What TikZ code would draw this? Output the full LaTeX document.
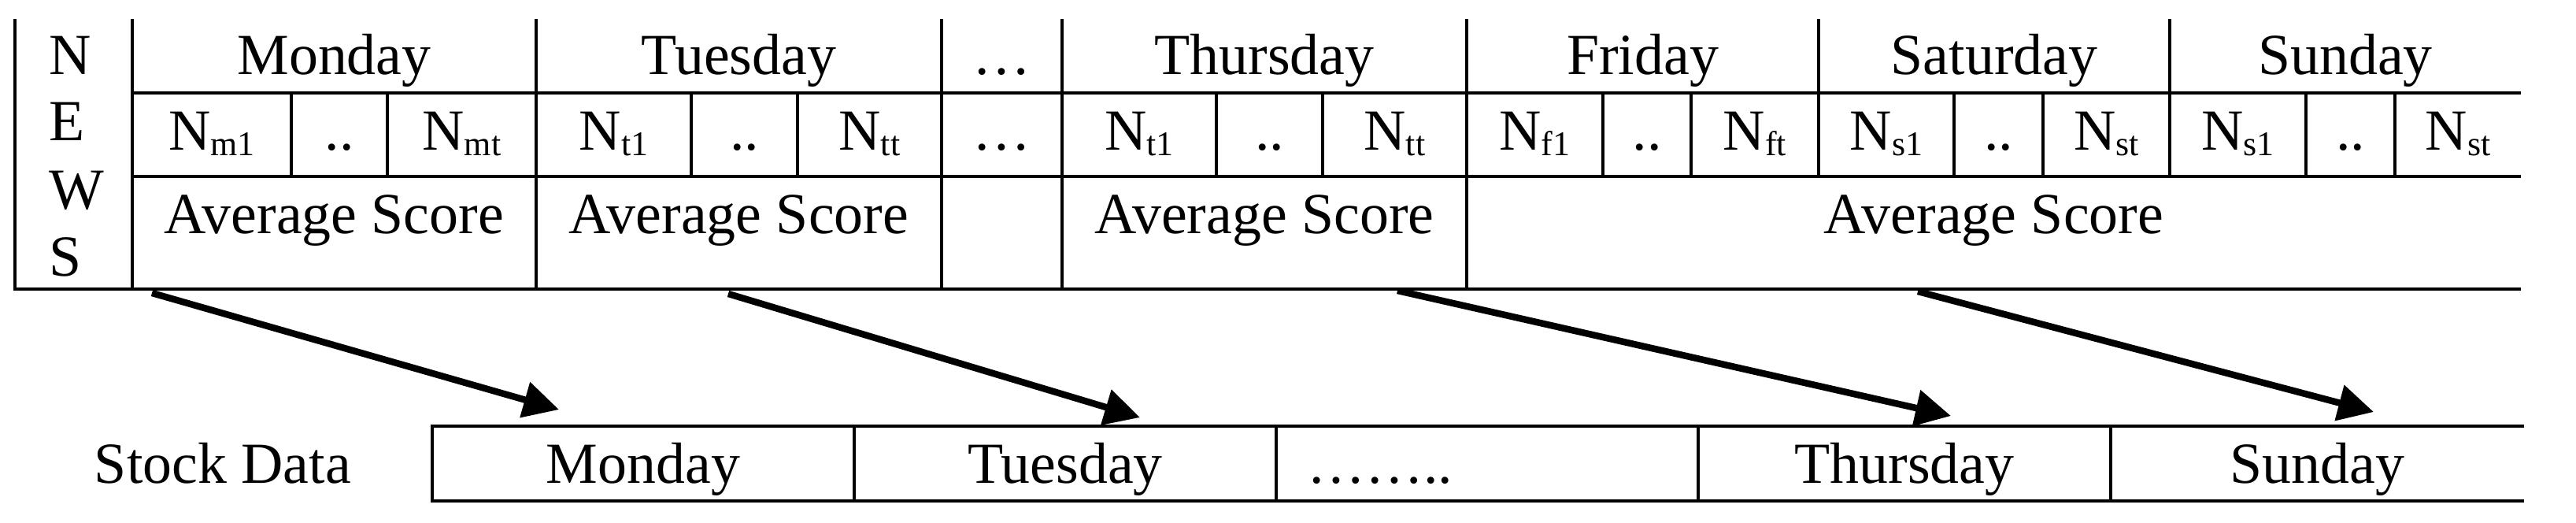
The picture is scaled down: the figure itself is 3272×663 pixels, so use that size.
\documentclass[tikz,border=0pt]{standalone}
\usepackage{fontspec}
\setmainfont{Liberation Serif}
\usepackage{tikz}
\usetikzlibrary{arrows.meta}

\newcommand{\Nsub}[1]{N\raisebox{-2pt}{\fontsize{12.5}{13}\selectfont #1}}

\begin{document}
\begin{tikzpicture}[x=0.01cm, y=-0.01cm, >={Triangle[length=4.5mm,width=4.5mm]},
		txt/.style={inner sep=0pt, anchor=base, font=\fontsize{21}{25}\selectfont},
		grid/.style={line width=1.2pt},
		link/.style={->, line width=2.4pt}]
		\useasboundingbox (0,0) rectangle (3272,663);

		\draw[grid] (19,24) -- (19,367) -- (3202,367);
		\draw[grid] (168,118) -- (3202,118) (168,224) -- (3202,224);
		\foreach \x in {168,681,1196,1349,1863} \draw[grid] (\x,24) -- (\x,367);
		\foreach \x in {2310,2756} \draw[grid] (\x,24) -- (\x,224);
		\foreach \x in {370,492,878,1013,1545,1680,2036,2148,2482,2595,2929,3042} \draw[grid] (\x,118) -- (\x,224);

		\draw[grid] (3206,541) -- (549,541) -- (549,636) -- (3206,636);
		\foreach \x in {1085,1621,2157,2681} \draw[grid] (\x,541) -- (\x,636);

		\foreach \l/\y in {N/94,E/178,W/265,S/350}
		\node[txt, anchor=base west] (news-\l) at (62,\y) {\l};

		\node[txt] (mon) at (424.5,94) {Monday};
		\node[txt] (tue) at (938.5,94) {Tuesday};
		\node[txt] (gap) at (1272.5,94) {…};
		\node[txt] (thu) at (1606,94) {Thursday};
		\node[txt] (fri) at (2086.5,94) {Friday};
		\node[txt] (sat) at (2533,94) {Saturday};
		\node[txt] (sun) at (2979,94) {Sunday};

		\foreach \n/\x/\t in {m1/269/m1, mt/586.5/mt, tue1/779.5/t1, tuet/1104.5/tt,
				thu1/1447/t1, thut/1771.5/tt, f1/1949.5/f1, ft/2229/ft,
				sat1/2396/s1, satt/2675.5/st, sun1/2842.5/s1, sunt/3122/st}
		\node[txt] (n-\n) at (\x,190) {\Nsub{\t}};
		\foreach \n/\x in {m/431, tue/945.5, thu/1612.5, f/2092, sat/2538.5, sun/2985.5}
		\node[txt] (dd-\n) at (\x,190) {..};
		\node[txt] (gap-n) at (1272.5,190) {…};

		\node[txt] (avg-mon) at (424.5,296) {Average Score};
		\node[txt] (avg-tue) at (938.5,296) {Average Score};
		\node[txt] (avg-thu) at (1606,296) {Average Score};
		\node[txt] (avg-end) at (2532.5,296) {Average Score};

		\node[txt] (stock) at (283,613) {Stock Data};
		\node[txt] (st-mon) at (817,613) {Monday};
		\node[txt] (st-tue) at (1353,613) {Tuesday};
		\node[txt, anchor=base west] (st-gap) at (1660,613) {……..};
		\node[txt] (st-thu) at (2419,613) {Thursday};
		\node[txt] (st-sun) at (2943.5,613) {Sunday};

		\coordinate (mon-out) at (193,372);
		\coordinate (mon-in) at (710,520);
		\coordinate (tue-out) at (925,373);
		\coordinate (tue-in) at (1448,530);
		\coordinate (thu-out) at (1775,369);
		\coordinate (thu-in) at (2478,528);
		\coordinate (sun-out) at (2436,370);
		\coordinate (sun-in) at (3015,523);

		\foreach \d in {mon,tue,thu,sun}
		\draw[link] (\d-out) -- (\d-in);
	\end{tikzpicture}
\end{document}
